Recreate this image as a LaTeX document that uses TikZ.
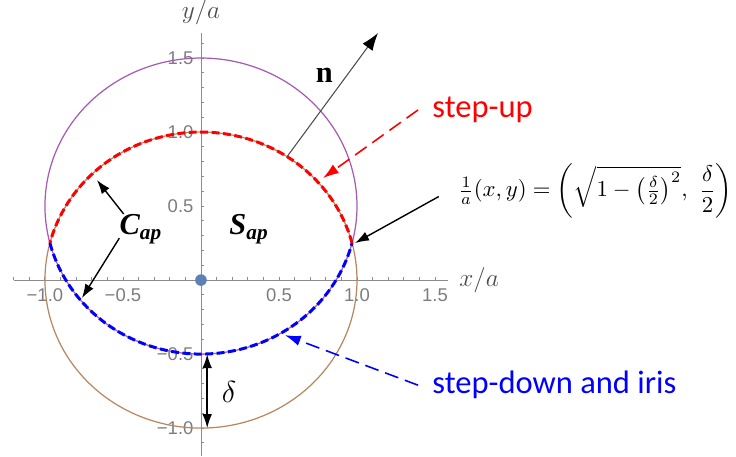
\documentclass[tikz,border=0pt]{standalone}
\usepackage{amsmath}
\usepackage{fontspec}
\newfontfamily\labelfont{Carlito}
\newfontfamily\tickfont{Liberation Sans}
\newfontfamily\timesfont{Liberation Serif}
\usetikzlibrary{arrows.meta}
\definecolor{mmapurple}{RGB}{165,90,180}
\definecolor{mmabrown}{RGB}{185,135,95}
\definecolor{mmablue}{RGB}{94,129,181}
\definecolor{tickgray}{RGB}{125,125,125}

\begin{document}
\begin{tikzpicture}[x=3.12cm, y=2.96cm,
    axisline/.style={gray!90, line width=0.5pt},
    ticklabel/.style={font=\tickfont\fontsize{10.5}{12}\selectfont, text=tickgray, inner sep=1pt},
    pointer/.style={-{Latex[length=8pt,width=5.5pt]}, line width=0.8pt},
    callout/.style={-{Latex[length=9pt,width=6pt]}, line width=0.9pt, dash pattern=on 8pt off 4pt},
    rim/.style={line width=1.7pt, dash pattern=on 4.5pt off 2pt},
    bigtext/.style={font=\timesfont\bfseries\fontsize{17.3}{20}\selectfont},
    steptext/.style={font=\labelfont\fontsize{18.5}{22}\selectfont, anchor=west, inner sep=0pt}]
  \useasboundingbox (-1.288,-1.189) rectangle (3.429,1.892);

  % Axes
  \draw[axisline] (-1.2,0) -- (1.58,0);
  \draw[axisline] (0,-1.19) -- (0,1.67);
  \foreach \t in {-12,...,15}
    \draw[axisline] (\t/10,0) -- (\t/10,0.022);
  \foreach \t in {-11,...,16}
    \draw[axisline] (0,\t/10) -- (0.021,\t/10);
  \foreach \t/\s [count=\k] in {-1/{−1.0}, -0.5/{−0.5}, 0.5/0.5, 1/1.0, 1.5/1.5}
    \node[ticklabel] (xtick\k) at (\t,-0.1) {\s};
  \foreach \t/\s [count=\k] in {-1/{−1.0}, -0.5/{−0.5}, 0.5/0.5, 1/1.0, 1.5/1.5}
    \node[ticklabel, anchor=east] (ytick\k) at (-0.035,\t) {\s};
  \node[font=\Large, text=black!70, inner sep=0pt] (ylabel) at (0,1.81) {$y/a$};
  \node[font=\Large, text=black!70, anchor=west, inner sep=0pt] (xlabel) at (1.654,0) {$x/a$};

  % Origin
  \fill[mmablue] (0,0) circle (3.3pt);

  % Circles
  \draw[mmapurple, line width=0.7pt] plot[domain=0:360, samples=120, smooth] ({cos(\x)},{0.5+sin(\x)});
  \draw[mmabrown, line width=0.7pt] plot[domain=0:360, samples=120, smooth] ({cos(\x)},{sin(\x)});

  % Step-up rim
  \draw[red, rim] plot[domain=14.48:165.52, samples=80, smooth] ({cos(\x)},{sin(\x)});
  % Step-down rim
  \draw[blue, rim] plot[domain=194.48:345.52, samples=80, smooth] ({cos(\x)},{0.5+sin(\x)});

  % Points on the rims
  \coordinate (nFoot) at ({cos(56.5)},{sin(56.5)});
  \coordinate (nHead) at (1.135,1.669);
  \coordinate (upHit) at (0.782,0.689);
  \coordinate (downHit) at (0.538,-0.372);
  \coordinate (corner) at (0.987,0.25);
  \coordinate (capTop) at (-0.667,0.676);
  \coordinate (capLow) at (-0.763,-0.122);
  \coordinate (deltaTop) at (0.04,-0.5);
  \coordinate (deltaBot) at (0.04,-1.0);

  % Labels
  \node[bigtext] (nlabel) at (0.79,1.385) {n};
  \node[bigtext, inner sep=0pt] (Cap) at (-0.385,0.345) {\itshape C\textsubscript{ap}};
  \node[bigtext, inner sep=0pt] (Sap) at (0.308,0.345) {\itshape S\textsubscript{ap}};
  \node[font=\LARGE] (deltalabel) at (0.18,-0.757) {$\delta$};
  \node[steptext, text=red] (stepup) at (1.481,1.149) {step-up};
  \node[steptext, text=blue] (stepdown) at (1.481,-0.71) {step-down and iris};
  \node[anchor=west, inner sep=0pt] (formula) at (1.648,0.6)
    {\resizebox{156pt}{!}{$\tfrac{1}{a}(x,y)=\left(\sqrt{1-\left(\tfrac{\delta}{2}\right)^{2}},\ \dfrac{\delta}{2}\right)$}};

  % Normal
  \draw[black!70, line width=0.6pt, -{Latex[black,length=10pt,width=7pt]}] (nFoot) -- (nHead);
  % Callouts
  \draw[red, callout] ([xshift=-8pt]stepup.west) -- (upHit);
  \draw[blue, callout] ([xshift=-8pt]stepdown.west) -- (downHit);
  \draw[pointer] ([xshift=-11pt,yshift=-3pt]formula.west) -- (corner);
  \draw[pointer] (Cap.139) -- (capTop);
  \draw[pointer] (Cap.203) -- (capLow);
  % Offset
  \draw[{Latex[length=8pt,width=5.5pt]}-{Latex[length=8pt,width=5.5pt]}, line width=0.9pt] (deltaTop) -- (deltaBot);
\end{tikzpicture}
\end{document}
